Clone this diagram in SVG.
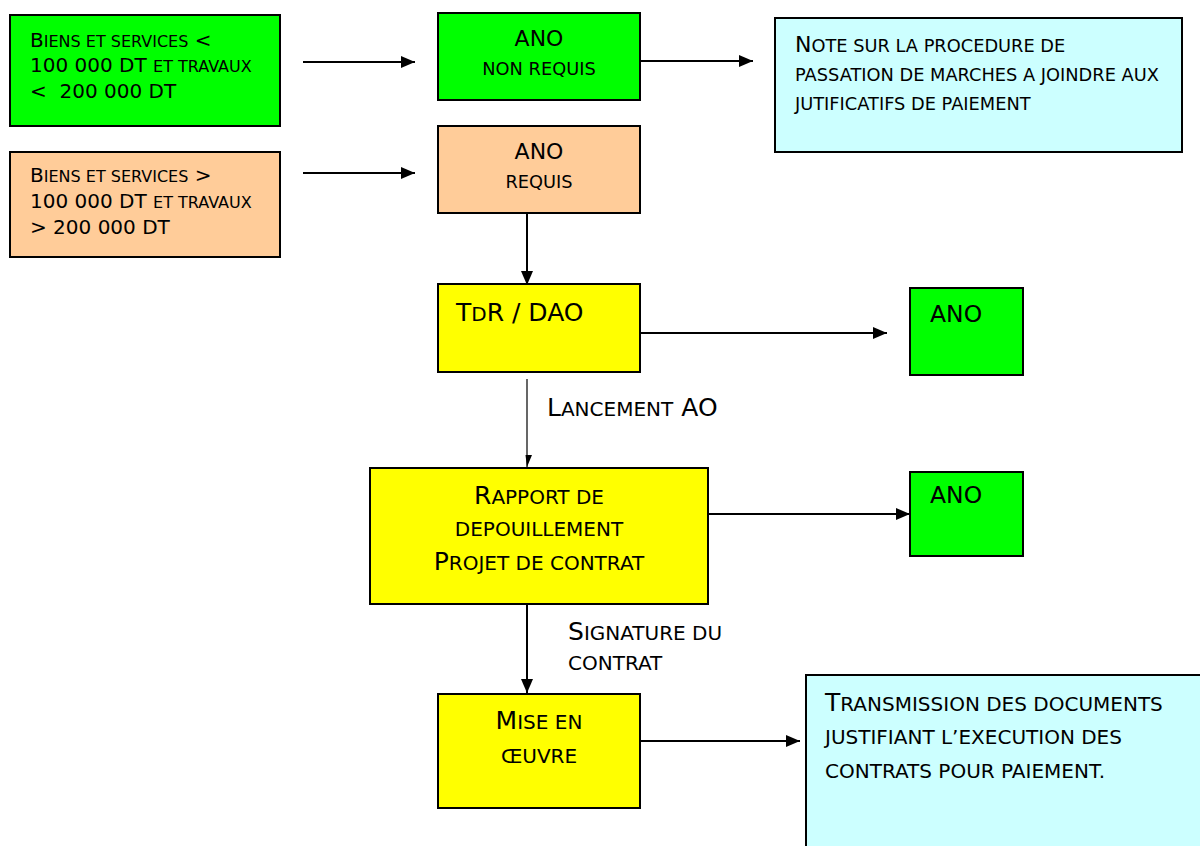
<svg xmlns="http://www.w3.org/2000/svg" width="1200" height="846" viewBox="0 0 1200 846">
  <defs>
    <marker id="head" viewBox="0 0 14 12" refX="14" refY="6" markerWidth="14" markerHeight="12" markerUnits="userSpaceOnUse" orient="auto">
      <path d="M0,0 L14,6 L0,12 Z" fill="#000"/>
    </marker>
    <marker id="headSmall" viewBox="0 0 12 10" refX="12" refY="5" markerWidth="12" markerHeight="10" markerUnits="userSpaceOnUse" orient="auto">
      <path d="M0,0 L12,5 L0,6.5 Z" fill="#000"/>
    </marker>
    <style>
      .box { stroke: #000; stroke-width: 2; }
      .green { fill: #00ff00; }
      .orange { fill: #ffcc99; }
      .yellow { fill: #ffff00; }
      .cyan { fill: #ccffff; }
      text { font-family: "DejaVu Sans", Verdana, sans-serif; fill: #000; }
      .s1 { font-size: 20px; }
      .s1 .sc, .s1.sc { font-size: 16px; }
      .s2 { font-size: 22px; }
      .s2 .sc, .s2.sc { font-size: 17.8px; }
      .s3 { font-size: 25px; }
      .s3 .sc, .s3.sc { font-size: 20px; }
      .s4 { font-size: 23.5px; }
      .mid { text-anchor: middle; }
      .link { stroke: #000; stroke-width: 2; fill: none; marker-end: url(#head); }
      .thin { stroke: #000; stroke-width: 1.2; fill: none; marker-end: url(#headSmall); }
    </style>
  </defs>

  <rect width="1200" height="846" fill="#fff"/>

  <!-- connectors -->
  <g id="connectors">
    <line class="link" x1="303" y1="62" x2="415" y2="62"/>
    <line class="link" x1="303" y1="173" x2="415" y2="173"/>
    <line class="link" x1="640" y1="61" x2="753" y2="61"/>
    <line class="link" x1="527" y1="213" x2="527" y2="285"/>
    <line class="link" x1="640" y1="333" x2="887" y2="333"/>
    <line class="thin" x1="527" y1="379" x2="527" y2="467"/>
    <line class="link" x1="708" y1="514" x2="910" y2="514"/>
    <line class="link" x1="527" y1="604" x2="527" y2="693"/>
    <line class="link" x1="640" y1="741" x2="800" y2="741"/>
    <text class="s3" x="547" y="416">L<tspan class="sc">ANCEMENT</tspan> AO</text>
    <text class="s3" x="568" y="640">S<tspan class="sc">IGNATURE DU</tspan></text>
    <text class="s3 sc" x="568" y="670">CONTRAT</text>
  </g>

  <!-- small purchases -->
  <g id="seuil-bas">
    <rect class="box green" x="10" y="15" width="270" height="111"/>
    <text class="s1" x="30" y="47">B<tspan class="sc">IENS ET SERVICES</tspan> &lt;</text>
    <text class="s1" x="30" y="72">100 000 DT <tspan class="sc">ET TRAVAUX</tspan></text>
    <text class="s1" x="30" y="98" xml:space="preserve">&lt;  200 000 DT</text>
  </g>

  <!-- large purchases -->
  <g id="seuil-haut">
    <rect class="box orange" x="10" y="152" width="270" height="105"/>
    <text class="s1" x="30" y="182">B<tspan class="sc">IENS ET SERVICES</tspan> &gt;</text>
    <text class="s1" x="30" y="208">100 000 DT <tspan class="sc">ET TRAVAUX</tspan></text>
    <text class="s1" x="30" y="234">&gt; 200 000 DT</text>
  </g>

  <g id="ano-non-requis">
    <rect class="box green" x="438" y="13" width="202" height="87"/>
    <text class="s2 mid" x="539" y="46">ANO</text>
    <text class="s2 mid sc" x="539" y="75">NON REQUIS</text>
  </g>

  <g id="ano-requis">
    <rect class="box orange" x="438" y="126" width="202" height="87"/>
    <text class="s2 mid" x="539" y="159">ANO</text>
    <text class="s2 mid sc" x="539" y="188">REQUIS</text>
  </g>

  <g id="note-procedure">
    <rect class="box cyan" x="775" y="18" width="407" height="134"/>
    <text class="s2" x="795" y="52">N<tspan class="sc" font-size="17.3px">OTE SUR LA PROCEDURE DE</tspan></text>
    <text class="s2 sc" x="795" y="81">PASSATION DE MARCHES A JOINDRE AUX</text>
    <text class="s2 sc" x="795" y="110">JUTIFICATIFS DE PAIEMENT</text>
  </g>

  <g id="tdr-dao">
    <rect class="box yellow" x="438" y="284" width="202" height="88"/>
    <text class="s3" x="456" y="321">T<tspan class="sc">D</tspan>R / DAO</text>
  </g>

  <g id="ano-tdr">
    <rect class="box green" x="910" y="288" width="113" height="87"/>
    <text class="s4" x="930" y="322">ANO</text>
  </g>

  <g id="rapport-depouillement">
    <rect class="box yellow" x="370" y="468" width="338" height="136"/>
    <text class="s3 mid" x="539" y="504">R<tspan class="sc">APPORT DE</tspan></text>
    <text class="s3 mid sc" x="539" y="536">DEPOUILLEMENT</text>
    <text class="s3 mid" x="539" y="570">P<tspan class="sc">ROJET DE CONTRAT</tspan></text>
  </g>

  <g id="ano-rapport">
    <rect class="box green" x="910" y="472" width="113" height="84"/>
    <text class="s4" x="930" y="503">ANO</text>
  </g>

  <g id="mise-en-oeuvre">
    <rect class="box yellow" x="438" y="694" width="202" height="114"/>
    <text class="s3 mid" x="539" y="729">M<tspan class="sc">ISE EN</tspan></text>
    <text class="s3 mid sc" x="539" y="763">ŒUVRE</text>
  </g>

  <g id="transmission">
    <rect class="box cyan" x="806" y="675" width="420" height="200"/>
    <text class="s3" x="825" y="711">T<tspan class="sc">RANSMISSION DES DOCUMENTS</tspan></text>
    <text class="s3 sc" x="825" y="744">JUSTIFIANT L’EXECUTION DES</text>
    <text class="s3 sc" x="825" y="778">CONTRATS POUR PAIEMENT.</text>
  </g>
</svg>
